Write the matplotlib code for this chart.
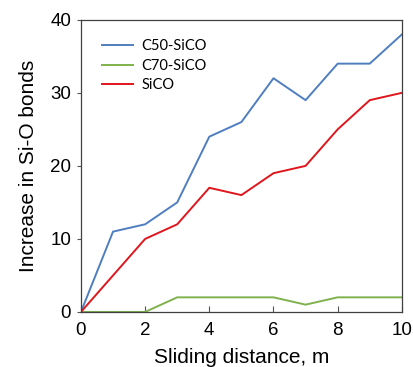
import matplotlib.pyplot as plt

# Données
distance = [0, 1, 2, 3, 4, 5, 6, 7, 8, 9, 10]
c50_sico = [0, 11, 12, 15, 24, 26, 32, 29, 34, 34, 38]
c70_sico = [0, 0, 0, 2, 2, 2, 2, 1, 2, 2, 2]
sico = [0, 5, 10, 12, 17, 16, 19, 20, 25, 29, 30]

plt.rcParams['font.family'] = ['Liberation Sans', 'DejaVu Sans']

fig = plt.figure(figsize=(4.13, 3.67), dpi=100)
ax = fig.add_axes([0.196, 0.150, 0.777, 0.796])

ax.plot(distance, c50_sico, color='#4F7EC0', lw=1.4, label='C50-SiCO')
ax.plot(distance, c70_sico, color='#7FB24E', lw=1.4, label='C70-SiCO')
ax.plot(distance, sico, color='#E0161C', lw=1.4, label='SiCO')

ax.set_xlim(0, 10)
ax.set_ylim(0, 40)
ax.set_xticks(range(0, 11, 2))
ax.set_yticks(range(0, 41, 10))
ax.tick_params(axis='x', direction='in', length=4, labelsize=13.5, pad=7, color='#555555')
ax.tick_params(axis='y', direction='out', length=3, labelsize=13.5, pad=4, color='#555555')
for s in ax.spines.values():
    s.set_color('#404040')
    s.set_linewidth(0.9)

ax.set_xlabel('Sliding distance, m', fontsize=15, labelpad=7)
ax.set_ylabel('Increase in Si-O bonds', fontsize=15, labelpad=9)

leg = ax.legend(loc='upper left', frameon=False,
                prop={'family': ['Lato', 'DejaVu Sans'], 'size': 10.5},
                handlelength=2.1, handletextpad=0.6, labelspacing=0.4,
                bbox_to_anchor=(0.025, 0.98))

fig.savefig('out.png', dpi=100)
